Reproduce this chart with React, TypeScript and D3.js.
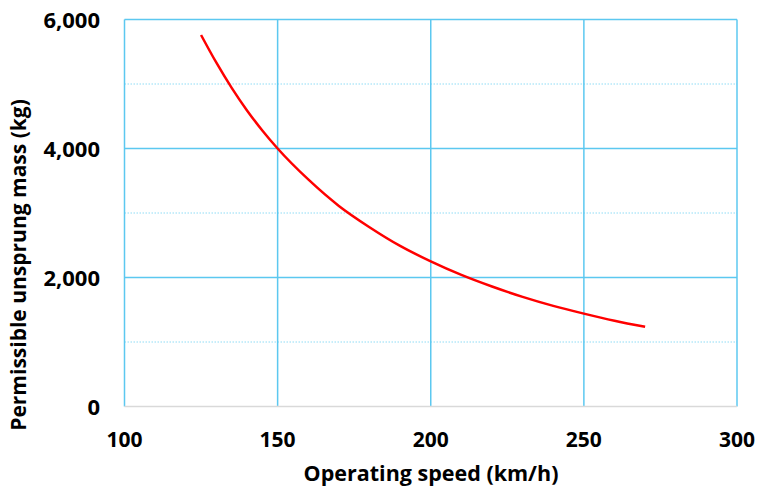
import { useEffect, useRef } from 'react'
import * as d3 from 'd3'

// values
const speeds = [125, 130, 135, 140, 145, 150, 160, 170, 180, 190, 200, 210, 220, 230, 240, 250, 260, 270]
const masses = [5760, 5330, 4940, 4590, 4280, 4000, 3520, 3110, 2780, 2490, 2250, 2040, 1860, 1700, 1560, 1440, 1330, 1235]

const xTicks = [100, 150, 200, 250, 300]
const yTicks = [0, 2000, 4000, 6000]
const yMinor = [1000, 3000, 5000]

const font = "'Open Sans', sans-serif"

const App = () => {
  const svgRef = useRef<SVGSVGElement>(null)

  useEffect(() => {
    const svg = d3.select(svgRef.current)
    svg.selectAll('*').remove()

    const W = 757
    const H = 488
    const margin = { top: 19.5, right: 20, bottom: 81.5, left: 124.5 }
    const width = W - margin.left - margin.right
    const height = H - margin.top - margin.bottom

    const x = d3.scaleLinear().domain([100, 300]).range([0, width])
    const y = d3.scaleLinear().domain([0, 6000]).range([height, 0])

    const g = svg.append('g').attr('transform', `translate(${margin.left},${margin.top})`)

    // minor dotted gridlines
    g.selectAll('.minor')
      .data(yMinor)
      .enter()
      .append('line')
      .attr('x1', 0)
      .attr('x2', width)
      .attr('y1', (d) => y(d))
      .attr('y2', (d) => y(d))
      .attr('stroke', '#8fdcf5')
      .attr('stroke-width', 1)
      .attr('stroke-dasharray', '1.5 1.5')

    // major gridlines
    g.selectAll('.vgrid')
      .data(xTicks)
      .enter()
      .append('line')
      .attr('x1', (d) => x(d))
      .attr('x2', (d) => x(d))
      .attr('y1', 0)
      .attr('y2', height)
      .attr('stroke', '#5cc8f0')
      .attr('stroke-width', 1.5)

    g.selectAll('.hgrid')
      .data(yTicks.filter((d) => d > 0))
      .enter()
      .append('line')
      .attr('x1', 0)
      .attr('x2', width)
      .attr('y1', (d) => y(d))
      .attr('y2', (d) => y(d))
      .attr('stroke', '#5cc8f0')
      .attr('stroke-width', 1.5)

    // bottom axis line
    g.append('line')
      .attr('x1', 0)
      .attr('x2', width)
      .attr('y1', height)
      .attr('y2', height)
      .attr('stroke', '#d9d9d9')
      .attr('stroke-width', 1.5)

    // tick labels
    g.selectAll('.xlab')
      .data(xTicks)
      .enter()
      .append('text')
      .attr('x', (d) => x(d))
      .attr('y', height + 40.5)
      .attr('text-anchor', 'middle')
      .style('font-family', font)
      .style('font-weight', 700)
      .style('font-size', '21px')
      .text((d) => d3.format('d')(d))

    g.selectAll('.ylab')
      .data(yTicks)
      .enter()
      .append('text')
      .attr('x', -24.5)
      .attr('y', (d) => y(d) + 8)
      .attr('text-anchor', 'end')
      .style('font-family', font)
      .style('font-weight', 700)
      .style('font-size', '22px')
      .text((d) => d3.format(',')(d))

    // curve
    const line = d3
      .line<number>()
      .x((d, i) => x(speeds[i]))
      .y((d) => y(d))
      .curve(d3.curveMonotoneX)

    g.append('path')
      .datum(masses)
      .attr('d', line)
      .attr('fill', 'none')
      .attr('stroke', '#ff0000')
      .attr('stroke-width', 2.5)

    // axis titles
    svg.append('text')
      .attr('x', 431)
      .attr('y', 481)
      .attr('text-anchor', 'middle')
      .style('font-family', font)
      .style('font-weight', 700)
      .style('font-size', '21.5px')
      .text('Operating speed (km/h)')

    svg.append('text')
      .attr('transform', 'translate(26,265) rotate(-90)')
      .attr('text-anchor', 'middle')
      .style('font-family', font)
      .style('font-weight', 700)
      .style('font-size', '21px')
      .text('Permissible unsprung mass (kg)')
  }, [])

  return (
    <svg
      ref={svgRef}
      width='757'
      height='488'
      style={{ position: 'absolute', left: 0, top: 0, background: '#fff' }}
    />
  )
}

export default App
